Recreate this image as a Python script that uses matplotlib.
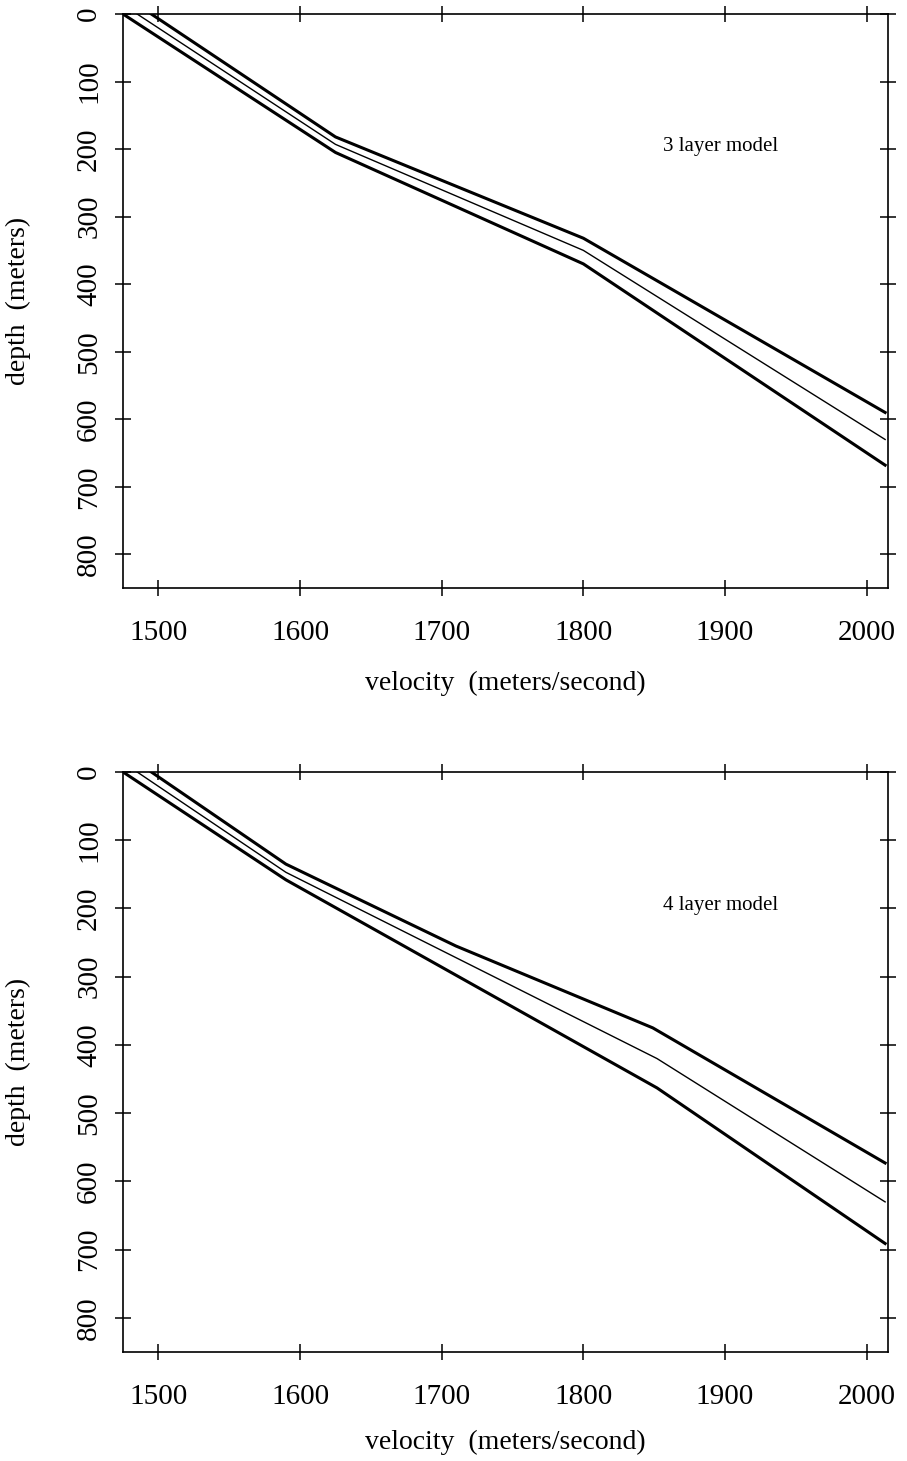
#!/usr/bin/env python3
import matplotlib
matplotlib.use("Agg")
import matplotlib.pyplot as plt

plt.rcParams['font.family'] = ['Liberation Serif', 'DejaVu Serif']

# 3 layer model: velocity (m/s) vs depth (m) for upper bound, model, lower bound
v3_upper = [1495, 1625, 1800, 2013]
d3_upper = [0, 182, 332, 590]
v3_mid = [1485, 1625, 1800, 2013]
d3_mid = [0, 193, 350, 630]
v3_lower = [1475, 1625, 1800, 2013]
d3_lower = [0, 205, 370, 668]

# 4 layer model
v4_upper = [1495, 1590, 1710, 1849, 2013]
d4_upper = [0, 135, 255, 375, 573]
v4_mid = [1485, 1590, 1852, 2013]
d4_mid = [0, 147, 420, 630]
v4_lower = [1475, 1590, 1852, 2013]
d4_lower = [0, 158, 463, 691]

x_ticks = [1500, 1600, 1700, 1800, 1900, 2000]
y_ticks = [0, 100, 200, 300, 400, 500, 600, 700, 800]


def setup_axes(ax, label, xpad):
	ax.set_xlim(1475, 2015)
	ax.set_ylim(850, 0)
	ax.set_xticks(x_ticks)
	ax.set_yticks(y_ticks)
	ax.tick_params(direction='inout', length=12, width=1.1, top=True, right=True,
		labelsize=21)
	ax.tick_params(axis='x', pad=17)
	ax.tick_params(axis='y', pad=9)
	for lab in ax.get_yticklabels():
		lab.set_rotation(90)
		lab.set_va('center')
	for sp in ax.spines.values():
		sp.set_linewidth(1.2)
	ax.set_xlabel('velocity  (meters/second)', fontsize=20, labelpad=xpad)
	ax.set_ylabel('depth  (meters)', fontsize=20)
	ax.yaxis.set_label_coords(-0.12, 0.5)
	ax.text(0.706, 0.77, label, transform=ax.transAxes, fontsize=15, va='center')


fig = plt.figure(figsize=(9.07, 14.61), dpi=100)
ax1 = fig.add_axes([0.1356, 0.5975, 0.8434, 0.3929])
ax2 = fig.add_axes([0.1356, 0.0746, 0.8434, 0.3970])

ax1.plot(v3_upper, d3_upper, color='black', lw=2.2)
ax1.plot(v3_mid, d3_mid, color='black', lw=1.0)
ax1.plot(v3_lower, d3_lower, color='black', lw=2.2)
setup_axes(ax1, '3 layer model', 18)

ax2.plot(v4_upper, d4_upper, color='black', lw=2.2)
ax2.plot(v4_mid, d4_mid, color='black', lw=1.0)
ax2.plot(v4_lower, d4_lower, color='black', lw=2.2)
setup_axes(ax2, '4 layer model', 14)

fig.savefig('out.png', dpi=100)
